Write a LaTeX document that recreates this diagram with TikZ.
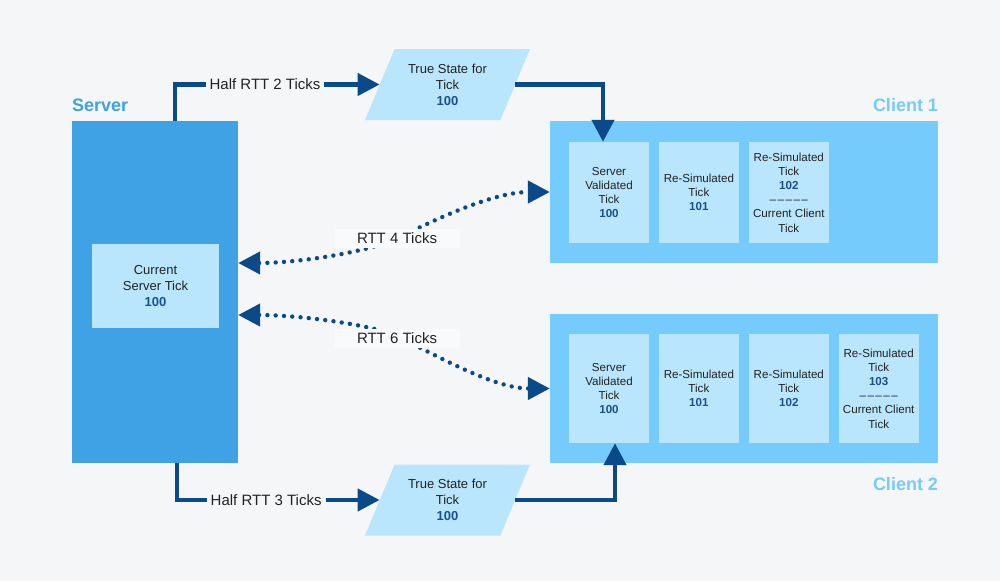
\documentclass[tikz,border=0pt]{standalone}
\usepackage{fontspec}
\setmainfont{Liberation Sans}
\usepackage{xcolor}
\usepackage{tikz}
\usetikzlibrary{arrows.meta, shapes.geometric}
\usetikzlibrary{positioning, calc}
\definecolor{bggray}{HTML}{F4F6F8}
\definecolor{labelbg}{HTML}{F9FAFB}
\definecolor{serverblue}{HTML}{3EA2E4}
\definecolor{clientblue}{HTML}{76CBFD}
\definecolor{tickblue}{HTML}{B9E6FC}
\definecolor{linkblue}{HTML}{0B4A89}
\definecolor{numblue}{HTML}{1B4F8E}
\definecolor{textgray}{HTML}{222222}
\newcommand{\ticknum}[1]{{\bfseries\color{numblue}#1}}
\newcommand{\tickdash}{\textendash\kern1.5pt\textendash\kern1.5pt\textendash\kern1.5pt\textendash\kern1.5pt\textendash}
\tikzset{
    tickbox/.style = {inner sep=0pt, align=center, fill=tickblue, text=textgray,
        minimum width=80pt, font=\fontsize{11.6}{14.2}\selectfont},
    client1_tick/.style = {tickbox, minimum height=101pt},
    client2_tick/.style = {tickbox, minimum height=109pt},
    server_tick/.style = {tickbox, minimum width=127pt, minimum height=84pt,
        font=\fontsize{13}{16.3}\selectfont},
    server_box/.style = {inner sep=0pt, fill=serverblue, minimum width=166pt, minimum height=342pt},
    client_box/.style = {inner sep=0pt, fill=clientblue, minimum width=388pt},
    state_box/.style = {trapezium, trapezium left angle=62, trapezium right angle=118,
        trapezium stretches=true, minimum width=165pt, minimum height=71pt,
        inner sep=0pt, fill=tickblue, text=textgray, align=center,
        font=\fontsize{13}{16}\selectfont},
    title/.style = {inner sep=0pt, font=\fontsize{18}{22}\selectfont\bfseries},
    link/.style = {draw=linkblue, line width=4.5pt, ->},
    rtt_link/.style = {draw=linkblue, line width=4.4pt, line cap=round,
        dash pattern=on 0pt off 8.3pt, <->},
    hop_label/.style = {fill=bggray, text=textgray, inner xsep=4pt, inner ysep=1pt,
        font=\fontsize{15}{18}\selectfont},
    rtt_label/.style = {fill=labelbg, text=textgray, inner sep=0pt, minimum width=125pt,
        minimum height=19pt, font=\fontsize{15}{18}\selectfont},
}

\begin{document}
\begin{tikzpicture}[x=1pt, y=-1pt, >={Triangle[length=22pt,width=22pt]}]
    \fill[bggray] (0,0) rectangle (1000,581);
    \useasboundingbox (0,0) rectangle (1000,581);
    % server side
    \node (server) [server_box] at (155,292) {};
    \node (srvtick) [server_tick] at (155.5,286) {Current\\Server Tick\\\ticknum{100}};
    \node (srvtitle) [title, text=serverblue, anchor=base west] at ([yshift=9pt]server.north west) {Server};
    % client 1
    \node (client1) [client_box, minimum height=142pt] at (744,192) {};
    \node (c1t1) [client1_tick] at (609,192.5) {Server\\Validated\\Tick\\\ticknum{100}};
    \node (c1t2) [client1_tick, right=9.5pt of c1t1] {Re-Simulated\\Tick\\\ticknum{101}};
    \node (c1t3) [client1_tick, right=9.5pt of c1t2] {Re-Simulated\\Tick\\\ticknum{102}\\\tickdash\\Current Client\\Tick};
    \node (c1title) [title, text=clientblue, anchor=base east] at ([yshift=9pt]client1.north east) {Client 1};
    % client 2
    \node (client2) [client_box, minimum height=149pt] at (744,388.5) {};
    \node (c2t1) [client2_tick] at (609,388.5) {Server\\Validated\\Tick\\\ticknum{100}};
    \node (c2t2) [client2_tick, right=9.5pt of c2t1] {Re-Simulated\\Tick\\\ticknum{101}};
    \node (c2t3) [client2_tick, right=9.5pt of c2t2] {Re-Simulated\\Tick\\\ticknum{102}};
    \node (c2t4) [client2_tick, right=9.5pt of c2t3] {Re-Simulated\\Tick\\\ticknum{103}\\\tickdash\\Current Client\\Tick};
    \node (c2title) [title, text=clientblue, anchor=base east] at ([yshift=-27pt]client2.south east) {Client 2};
    % true states
    \node (state1) [state_box] at (447.5,84.5) {True State for\\Tick\\\ticknum{100}};
    \node (state2) [state_box] at (447.5,500) {True State for\\Tick\\\ticknum{100}};
    \draw[link] ([xshift=20pt]server.north) |- node[hop_label, pos=0.72] {Half RTT 2 Ticks} (state1.west);
    \draw[link] ([xshift=22pt]server.south) |- node[hop_label, pos=0.72] {Half RTT 3 Ticks} (state2.west);
    \draw[link] (state1.east) -| ([xshift=-6pt]c1t1.north);
    \draw[link] (state2.east) -| ([xshift=6pt]c2t1.south);
    % round trips
    \coordinate (rtt4) at (400,237);
    \coordinate (rtt6) at (400,337.5);
    \draw[rtt_link] ([yshift=29pt]server.east) .. controls +(60,0) and +(-30,15) .. (rtt4)
        .. controls +(40,-20) and +(-55,0) .. (client1.west);
    \draw[rtt_link] ([yshift=-23pt]server.east) .. controls +(60,0) and +(-26,-13) .. (rtt6)
        .. controls +(40,20) and +(-55,0) .. (client2.west);
    \node (rtt4label) [rtt_label] at (397,238) {RTT 4 Ticks};
    \node (rtt6label) [rtt_label] at (397,338) {RTT 6 Ticks};
\end{tikzpicture}
\end{document}
